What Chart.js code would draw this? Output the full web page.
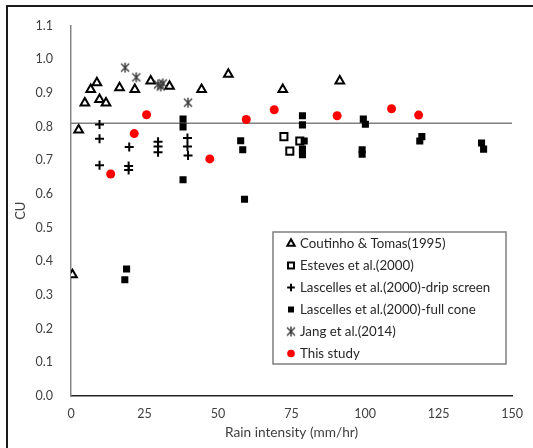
<!DOCTYPE html>
<html><head><meta charset="utf-8">
<script src="https://cdn.jsdelivr.net/npm/chart.js@4.4.1/dist/chart.umd.min.js"></script>
<style>
html,body{margin:0;padding:0;background:#fff;overflow:hidden;}
#wrap{position:relative;width:533px;height:448px;overflow:hidden;}
#frame{position:absolute;left:6px;top:5px;width:600px;height:600px;border-left:2px solid #1a1a1a;border-top:2px solid #1a1a1a;pointer-events:none;}
canvas{position:absolute;left:0;top:0;}
</style></head>
<body><div id="wrap"><canvas id="c" width="533" height="448"></canvas><div id="frame"></div></div>
<script>
// ---- data ----
const seriesNames = ["Coutinho & Tomas(1995)", "Esteves et al.(2000)", "Lascelles et al.(2000)-drip screen", "Lascelles et al.(2000)-full cone", "Jang et al.(2014)", "This study"];
const coutinhoX = [0.5, 2.6, 4.7, 6.7, 8.8, 9.7, 11.9, 16.5, 21.7, 27.1, 33.5, 44.4, 53.5, 72, 91.4];
const coutinhoY = [0.36, 0.79, 0.87, 0.91, 0.93, 0.88, 0.87, 0.915, 0.91, 0.935, 0.92, 0.91, 0.955, 0.91, 0.935];
const estevesX = [72.4, 74.4, 77.8];
const estevesY = [0.77, 0.727, 0.757];
const dripX = [9.7, 9.7, 9.7, 19.8, 19.6, 19.6, 29.6, 29.6, 29.6, 39.6, 39.6, 39.8];
const dripY = [0.806, 0.764, 0.685, 0.739, 0.683, 0.671, 0.755, 0.741, 0.724, 0.766, 0.741, 0.714];
const coneX = [18.9, 18.3, 38.1, 38.1, 38.1, 57.7, 58.4, 59, 78.7, 78.7, 79.3, 78.7, 78.7, 99.4, 100.1, 99, 99, 119.3, 118.6, 139.6, 140.3];
const coneY = [0.377, 0.345, 0.822, 0.799, 0.642, 0.758, 0.731, 0.584, 0.832, 0.805, 0.757, 0.733, 0.716, 0.822, 0.807, 0.731, 0.718, 0.770, 0.757, 0.751, 0.733];
const jangX = [18.4, 22.2, 29.6, 30.5, 31.2, 39.8];
const jangY = [0.975, 0.946, 0.925, 0.919, 0.928, 0.871];
const studyX = [13.5, 21.5, 25.7, 47.2, 59.6, 69.1, 90.5, 109, 118.2];
const studyY = [0.659, 0.779, 0.835, 0.704, 0.821, 0.850, 0.832, 0.853, 0.834];
const refLineX = [0, 150];
const refLineY = [0.81, 0.81];
const xTicks = [0, 25, 50, 75, 100, 125, 150];
const yTicks = [0, 0.1, 0.2, 0.3, 0.4, 0.5, 0.6, 0.7, 0.8, 0.9, 1.0, 1.1];
const xTitle = "Rain intensity (mm/hr)";
const yTitle = "CU";

const pts = (xs, ys) => xs.map((x, i) => ({x: x, y: ys[i]}));

// asterisk marker (X plus vertical bar)
function makeStar() {
  const c = document.createElement('canvas');
  c.width = 12; c.height = 12;
  const g = c.getContext('2d');
  g.strokeStyle = '#3a3a3a'; g.lineWidth = 1.4; g.lineCap = 'butt';
  g.beginPath();
  g.moveTo(2, 2); g.lineTo(10, 10);
  g.moveTo(10, 2); g.lineTo(2, 10);
  g.moveTo(6, 1); g.lineTo(6, 11);
  g.stroke();
  return c;
}
const starImg = makeStar();

const styles = [
  {pointStyle: 'triangle', pointRadius: 5, backgroundColor: '#fff', borderColor: '#000', borderWidth: 2},
  {pointStyle: 'rect', pointRadius: 5, backgroundColor: '#fff', borderColor: '#000', borderWidth: 2},
  {pointStyle: 'cross', pointRadius: 4.5, backgroundColor: '#000', borderColor: '#000', borderWidth: 2},
  {pointStyle: 'rect', pointRadius: 5, backgroundColor: '#000', borderColor: '#000', borderWidth: 0},
  {pointStyle: starImg, pointRadius: 6, backgroundColor: '#444', borderColor: '#444', borderWidth: 1},
  {pointStyle: 'circle', pointRadius: 4.5, backgroundColor: '#ff0000', borderColor: '#ff0000', borderWidth: 0}
];
const dataSets = [pts(coutinhoX, coutinhoY), pts(estevesX, estevesY), pts(dripX, dripY), pts(coneX, coneY), pts(jangX, jangY), pts(studyX, studyY)];

const datasets = dataSets.map((d, i) => Object.assign({
  type: 'scatter', label: seriesNames[i], data: d, order: 6 - i,
  pointHoverRadius: styles[i].pointRadius
}, styles[i]));
datasets.push({
  type: 'line', label: 'ref', data: pts(refLineX, refLineY), order: 20,
  borderColor: '#808080', borderWidth: 1.6, pointRadius: 0, fill: false
});

const boxLegend = {
  id: 'boxLegend',
  afterDraw(chart) {
    const ctx = chart.ctx;
    const bx = 273, by = 232, bw = 233, bh = 132;
    ctx.save();
    ctx.fillStyle = '#fff'; ctx.fillRect(bx, by, bw, bh);
    ctx.strokeStyle = '#7f7f7f'; ctx.lineWidth = 1.5; ctx.strokeRect(bx, by, bw, bh);
    seriesNames.forEach((name, i) => {
      const s = styles[i];
      const y = by + 11.5 + i * 22;
      ctx.fillStyle = s.backgroundColor; ctx.strokeStyle = s.borderColor; ctx.lineWidth = s.borderWidth;
      Chart.helpers.drawPoint(ctx, {pointStyle: s.pointStyle, radius: s.pointRadius * 0.85, borderWidth: s.borderWidth, rotation: 0}, bx + 18, y);
      ctx.fillStyle = '#262626';
      ctx.font = '13.3px Lato';
      ctx.textBaseline = 'middle'; ctx.textAlign = 'left';
      ctx.fillText(name, bx + 27, y + 0.5);
    });
    ctx.restore();
  }
};

new Chart(document.getElementById('c'), {
  type: 'scatter',
  data: {datasets: datasets},
  plugins: [boxLegend],
  options: {
    responsive: false, animation: false, devicePixelRatio: 1,
    layout: {padding: {top: 17, right: 14, left: 0, bottom: 0}},
    plugins: {legend: {display: false}, tooltip: {enabled: false}},
    scales: {
      x: {
        type: 'linear', min: 0, max: 150,
        afterFit: s => { s.height = 52; },
        afterBuildTicks: s => { s.ticks = xTicks.map(v => ({value: v})); },
        grid: {display: false, drawTicks: false},
        border: {display: true, color: '#262626', width: 1.5},
        ticks: {padding: 10, color: '#404040', font: {family: 'Lato', size: 12.5}},
        title: {display: true, text: xTitle, color: '#404040', font: {family: 'Lato', size: 13.7}, padding: {top: 0, bottom: 7}}
      },
      y: {
        type: 'linear', min: 0, max: 1.1,
        afterFit: s => { s.width = 71; },
        afterBuildTicks: s => { s.ticks = yTicks.map(v => ({value: v})); },
        grid: {display: false, drawTicks: false},
        border: {display: true, color: '#868686', width: 1.5},
        ticks: {padding: 18, color: '#404040', font: {family: 'Lato', size: 12.5}, callback: v => Number(v).toFixed(1)},
        title: {display: true, text: yTitle, color: '#404040', font: {family: 'Lato', size: 13}, padding: {top: 13, bottom: 0}}
      }
    }
  }
});
</script></body></html>
